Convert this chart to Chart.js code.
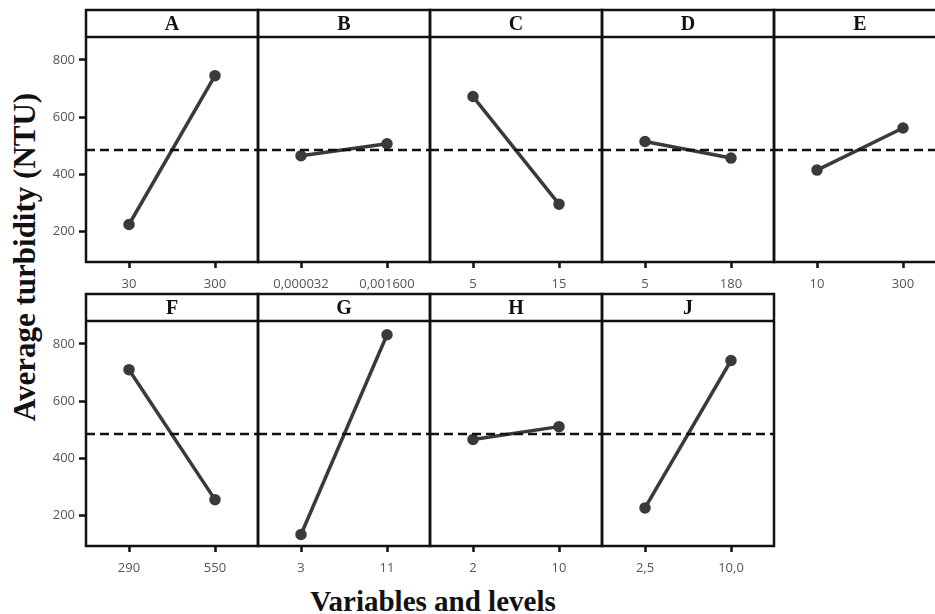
<!DOCTYPE html>
<html>
<head>
<meta charset="utf-8">
<script src="https://cdn.jsdelivr.net/npm/chart.js@4.4.0/dist/chart.umd.min.js"></script>
<style>
  html, body { margin: 0; padding: 0; background: #fff; }
  body { width: 935px; height: 614px; position: relative; overflow: hidden; }
  canvas { position: absolute; }
  .axis-title {
    position: absolute;
    font-family: "Liberation Serif", "Times New Roman", serif;
    font-weight: bold;
    color: #111;
    white-space: nowrap;
    line-height: 1;
  }
  #yTitle { left: 24px; top: 257px; font-size: 31px; transform: translate(-50%, -50%) rotate(-90deg); }
  #xTitle { left: 433px; top: 601px; font-size: 29px; transform: translate(-50%, -50%); }
</style>
</head>
<body>
<div id="yTitle" class="axis-title">Average turbidity (NTU)</div>
<div id="xTitle" class="axis-title">Variables and levels</div>
<script>
// main effects: mean turbidity at the low / high level of each factor
const factorNames = ['A', 'B', 'C', 'D', 'E', 'F', 'G', 'H', 'J'];
const levelLabels = [
    ['30', '300'],
    ['0,000032', '0,001600'],
    ['5', '15'],
    ['5', '180'],
    ['10', '300'],
    ['290', '550'],
    ['3', '11'],
    ['2', '10'],
    ['2,5', '10,0']
];
const lowMeans = [225, 465, 672, 515, 415, 710, 134, 466, 227];
const highMeans = [745, 507, 296, 457, 562, 256, 832, 511, 742];
const grandMean = 485;
const yTicks = [200, 400, 600, 800];
const yMin = 94;
const yMax = 880;

// panel geometry
const panelW = 172;
const firstLeft = 86;
const headerH = 27;
const plotH = 225;
const tickArea = 30;
const rowTops = [10, 294];
const perRow = 5;

// header strip with the factor letter + frame round the plot
const panelFrame = {
    id: 'panelFrame',
    afterDraw(chart, args, opts) {
        const { ctx, chartArea: a } = chart;
        const headTop = a.top - headerH;
        ctx.save();
        ctx.strokeStyle = '#111';
        ctx.lineWidth = 2.5;
        ctx.strokeRect(a.left, headTop, a.right - a.left, a.bottom - headTop);
        ctx.beginPath();
        ctx.moveTo(a.left, a.top);
        ctx.lineTo(a.right, a.top);
        ctx.stroke();
        ctx.font = 'bold 20px "Liberation Serif", serif';
        ctx.textAlign = 'center';
        ctx.textBaseline = 'middle';
        ctx.fillStyle = '#111';
        ctx.fillText(opts.label, (a.left + a.right) / 2, headTop + headerH / 2 + 1);
        ctx.restore();
    }
};

const tickFont = { family: '"Open Sans", sans-serif', size: 13 };

factorNames.forEach(function (name, i) {
    const row = Math.floor(i / perRow);
    const col = i % perRow;
    const panelLeft = firstLeft + col * panelW;
    const first = col === 0;

    const canvas = document.createElement('canvas');
    const left = first ? 0 : panelLeft - 2;
    const width = first ? panelLeft + panelW + 2 : panelW + 4;
    const top = rowTops[row] - 2;
    const height = 2 + headerH + plotH + tickArea;
    canvas.width = width;
    canvas.height = height;
    canvas.style.left = left + 'px';
    canvas.style.top = top + 'px';
    canvas.style.width = width + 'px';
    canvas.style.height = height + 'px';
    document.body.appendChild(canvas);

    const levels = levelLabels[i];

    new Chart(canvas, {
        type: 'line',
        data: {
            datasets: [{
                data: [{ x: -0.5, y: grandMean }, { x: 1.5, y: grandMean }],
                borderColor: '#111',
                borderWidth: 2.5,
                borderDash: [9, 5],
                pointRadius: 0,
                fill: false
            }, {
                data: [{ x: 0, y: lowMeans[i] }, { x: 1, y: highMeans[i] }],
                borderColor: '#3a3a3a',
                borderWidth: 3.5,
                pointRadius: 4,
                pointBackgroundColor: '#3a3a3a',
                pointBorderColor: '#3a3a3a',
                fill: false
            }]
        },
        options: {
            responsive: false,
            animation: false,
            layout: {
                autoPadding: false,
                padding: { left: first ? 0 : 2, right: 2, top: headerH + 2, bottom: 0 }
            },
            scales: {
                x: {
                    type: 'linear',
                    min: -0.5,
                    max: 1.5,
                    afterBuildTicks: function (scale) {
                        scale.ticks = [{ value: 0 }, { value: 1 }];
                    },
                    afterFit: function (scale) {
                        scale.height = tickArea;
                        scale.paddingLeft = 0;
                        scale.paddingRight = 0;
                    },
                    ticks: {
                        callback: function (value) { return levels[value]; },
                        color: '#555',
                        font: tickFont,
                        padding: 8,
                        maxRotation: 0,
                        autoSkip: false
                    },
                    grid: {
                        drawOnChartArea: false,
                        tickLength: 6,
                        tickWidth: 2.5,
                        tickColor: '#111'
                    },
                    border: { display: false }
                },
                y: {
                    display: first,
                    min: yMin,
                    max: yMax,
                    afterBuildTicks: function (scale) {
                        scale.ticks = yTicks.map(function (v) { return { value: v }; });
                    },
                    afterFit: function (scale) {
                        scale.width = first ? firstLeft : 0;
                        scale.paddingTop = 0;
                        scale.paddingBottom = 0;
                    },
                    ticks: {
                        color: '#555',
                        font: tickFont,
                        padding: 4
                    },
                    grid: {
                        drawOnChartArea: false,
                        tickLength: 7,
                        tickWidth: 2.5,
                        tickColor: '#111'
                    },
                    border: { display: false }
                }
            },
            plugins: {
                legend: { display: false },
                tooltip: { enabled: false },
                panelFrame: { label: name }
            }
        },
        plugins: [panelFrame]
    });
});
</script>
</body>
</html>
